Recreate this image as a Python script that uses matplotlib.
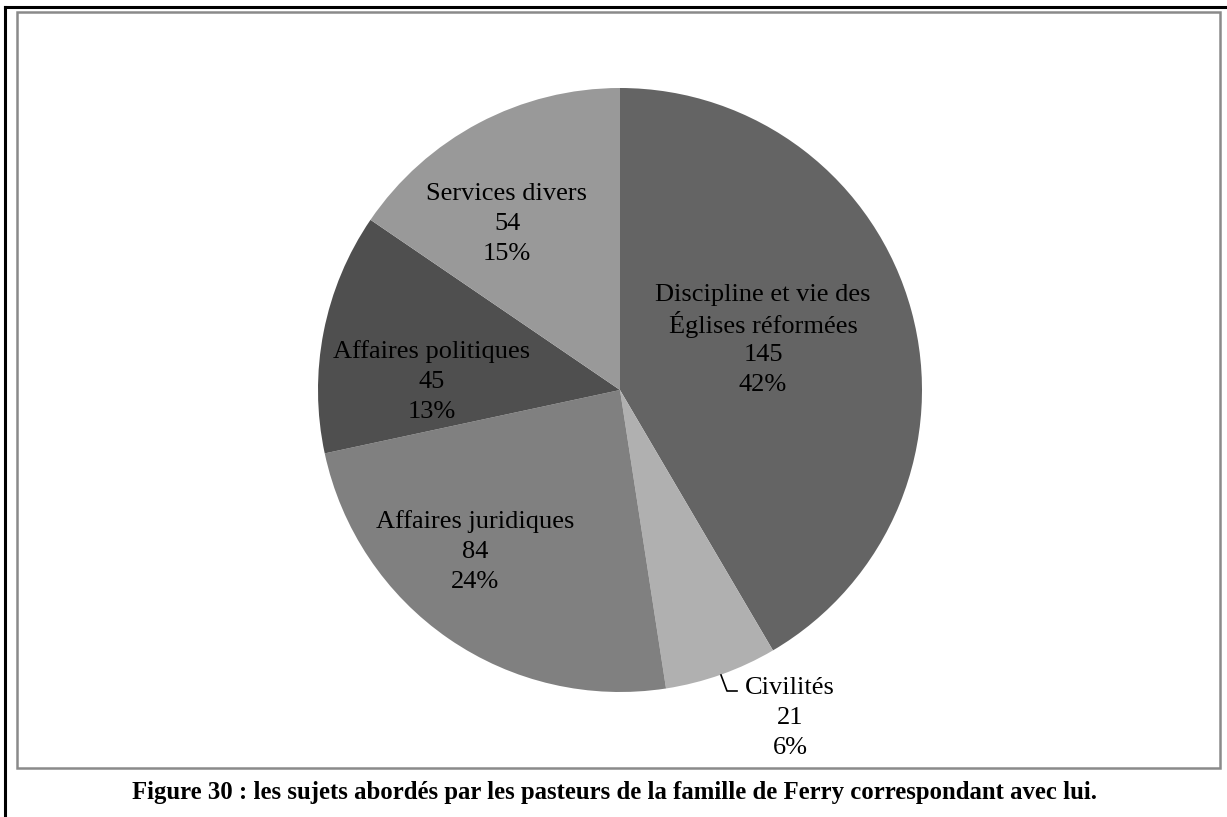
import matplotlib
matplotlib.use("Agg")
import matplotlib.pyplot as plt
from matplotlib.patches import Rectangle
from matplotlib.lines import Line2D

categories = ["Discipline et vie des\nÉglises réformées", "Civilités", "Affaires juridiques",
              "Affaires politiques", "Services divers"]
values = [145, 21, 84, 45, 54]
percents = ["42%", "6%", "24%", "13%", "15%"]
colors = ["#646464", "#b0b0b0", "#808080", "#4f4f4f", "#999999"]
title = "Figure 30 : les sujets abordés par les pasteurs de la famille de Ferry correspondant avec lui."

W, H = 1227, 817
fig = plt.figure(figsize=(W / 100, H / 100), dpi=100)
ax = fig.add_axes([0, 0, 1, 1])

def Y(py):
    return H - py

cx, cy, r = 620, Y(390), 302
ax.pie(values, colors=colors, startangle=90, counterclock=False,
       center=(cx, cy), radius=r, frame=True,
       wedgeprops=dict(linewidth=0))
ax.set_xlim(0, W)
ax.set_ylim(0, H)
ax.set_aspect("equal")
ax.axis("off")

# outer page-like borders
ax.add_line(Line2D([5, 5], [Y(7), 0], color="black", lw=2.2))
ax.add_line(Line2D([5, W], [Y(7), Y(7)], color="black", lw=2.2))
# chart frame
ax.add_patch(Rectangle((17, Y(768)), 1220 - 17, 768 - 12, fill=False,
                       edgecolor="#8a8a8a", lw=1.8))

font = dict(family="Liberation Serif", fontsize=19, ha="center",
            va="center_baseline", color="black")
# (x, y of first line) for each label block
label_pos = [(763, 292), (790, 686), (475, 519), (432, 349), (507, 191)]
step = 30
for cat, v, p, (px, py) in zip(categories, values, percents, label_pos):
    lines = cat.split("\n") + [str(v), p]
    for i, line in enumerate(lines):
        ax.text(px, Y(py + i * step), line, **font)

# leader line for Civilités
ax.add_line(Line2D([721, 727, 737], [Y(675), Y(691), Y(691)], color="black", lw=1.2))

fig.text(614 / W, 1 - 793 / H, title, ha="center", va="center",
         family="Liberation Serif", fontweight="bold", fontsize=17.8)

fig.savefig("out.png", dpi=100)
